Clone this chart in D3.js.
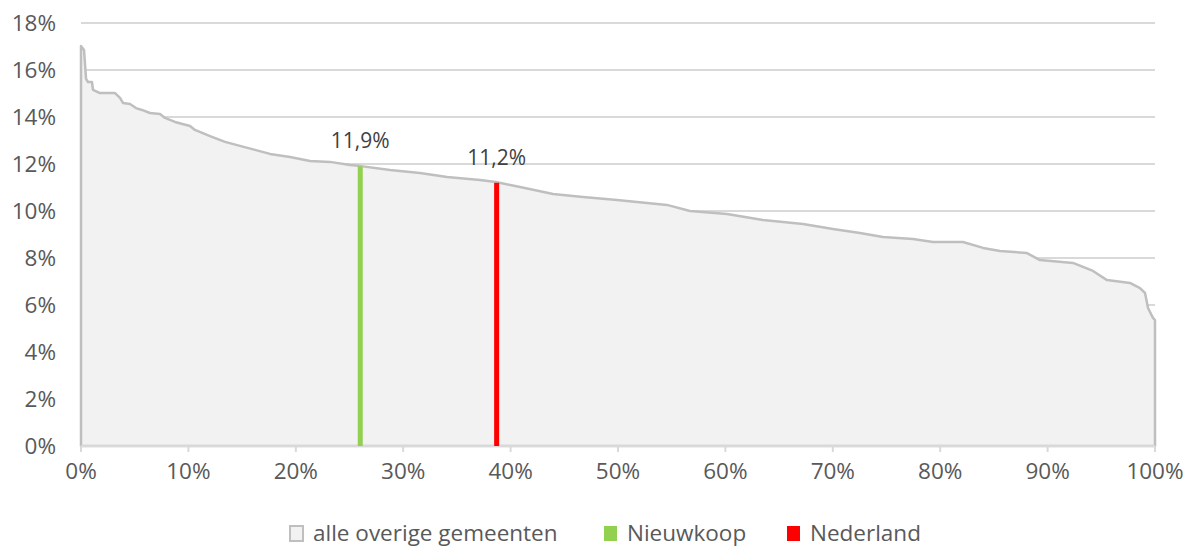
<!DOCTYPE html>
<html>
<head>
<meta charset="utf-8">
<script src="https://cdn.jsdelivr.net/npm/d3@7"></script>
<style>
  body { margin: 0; background: #fff; }
  text { font-family: "Open Sans", sans-serif; }
</style>
</head>
<body>
<script>
// share of municipalities (sorted) and their value
const positions = [0, 0.28, 0.47, 0.65, 1.02, 1.12, 1.77, 3.17, 3.63, 3.91, 4.56, 5.12, 5.68, 6.42, 7.36, 7.82,
                   8.75, 10.15, 10.61, 12.01, 13.41, 14.8, 16.2, 17.6, 19.46, 21.32, 23.18, 25.05, 26.07, 28.77,
                   31.56, 34.08, 37.15, 38.64, 40.88, 43.95, 46.74, 49.91, 51.77, 54.56, 56.7, 60.15, 63.5, 67.23,
                   70.02, 72.53, 74.67, 77.47, 79.33, 82.12, 83.99, 85.57, 88.08, 89.29, 92.36, 94.23, 95.53,
                   97.67, 98.6, 99.07, 99.35, 99.81, 100];
const values    = [17.02, 16.85, 15.62, 15.49, 15.49, 15.15, 15.02, 15.02, 14.81, 14.6, 14.55, 14.38, 14.3, 14.17, 14.13, 13.96,
                   13.79, 13.62, 13.45, 13.19, 12.94, 12.77, 12.6, 12.43, 12.3, 12.13, 12.09, 11.96, 11.91, 11.74,
                   11.62, 11.45, 11.32, 11.23, 11.02, 10.72, 10.6, 10.47, 10.38, 10.26, 10.0, 9.87, 9.62, 9.45,
                   9.23, 9.06, 8.89, 8.81, 8.68, 8.68, 8.43, 8.3, 8.21, 7.91, 7.79, 7.45, 7.06,
                   6.94, 6.72, 6.51, 5.87, 5.45, 5.36];

const markerNames  = ["Nieuwkoop", "Nederland"];
const markerPos    = [26.0, 38.7];
const markerValues = [11.9, 11.2];
const markerColors = ["#92d050", "#ff0000"];

const yTicks = [0, 2, 4, 6, 8, 10, 12, 14, 16, 18];
const xTicks = [0, 10, 20, 30, 40, 50, 60, 70, 80, 90, 100];
const legendLabels = ["alle overige gemeenten", "Nieuwkoop", "Nederland"];

const w = 1193, h = 549;
const svg = d3.select("body").append("svg").attr("width", w).attr("height", h);

const x = d3.scaleLinear().domain([0, 100]).range([81, 1155]);
const y = d3.scaleLinear().domain([0, 18]).range([446, 23]);

// gridlines
svg.selectAll("line.grid")
  .data(yTicks.filter(d => d > 0))
  .enter().append("line")
    .attr("x1", x(0)).attr("x2", x(100))
    .attr("y1", d => y(d)).attr("y2", d => y(d))
    .attr("stroke", "#d9d9d9").attr("stroke-width", 2);

// y labels
svg.selectAll("text.ylab")
  .data(yTicks)
  .enter().append("text")
    .attr("x", 56).attr("y", d => y(d))
    .attr("dy", "0.35em")
    .attr("text-anchor", "end")
    .attr("font-size", "22.5px").attr("fill", "#595959")
    .text(d => d + "%");

// area of all municipalities
const pts = positions.map((p, i) => [p, values[i]]);
const area = d3.area().x(d => x(d[0])).y0(y(0)).y1(d => y(d[1]));
svg.append("path")
  .attr("d", area(pts))
  .attr("fill", "#f2f2f2")
  .attr("stroke", "#bfbfbf").attr("stroke-width", 2.5)
  .attr("stroke-linejoin", "round");

// x axis baseline + ticks
svg.append("line")
  .attr("x1", x(0)).attr("x2", x(100)).attr("y1", y(0)).attr("y2", y(0))
  .attr("stroke", "#d9d9d9").attr("stroke-width", 2);
svg.selectAll("line.xtick")
  .data(xTicks)
  .enter().append("line")
    .attr("x1", d => x(d)).attr("x2", d => x(d))
    .attr("y1", y(0)).attr("y2", y(0) + 6)
    .attr("stroke", "#d9d9d9").attr("stroke-width", 2);
svg.selectAll("text.xlab")
  .data(xTicks)
  .enter().append("text")
    .attr("x", d => x(d)).attr("y", 471)
    .attr("dy", "0.35em")
    .attr("text-anchor", "middle")
    .attr("font-size", "22.5px").attr("fill", "#595959")
    .text(d => d + "%");

// marker bars
markerPos.forEach((p, i) => {
  svg.append("rect")
    .attr("x", x(p) - 2.5).attr("width", 5)
    .attr("y", y(markerValues[i])).attr("height", y(0) - y(markerValues[i]))
    .attr("fill", markerColors[i]);
  svg.append("text")
    .attr("x", x(p)).attr("y", y(markerValues[i]) - 18)
    .attr("text-anchor", "middle")
    .attr("font-size", "21px").attr("fill", "#404040")
    .text(String(markerValues[i]).replace(".", ",") + "%");
});

// legend
const legendX = [290, 604, 787];
const legendFill = ["#f2f2f2", markerColors[0], markerColors[1]];
legendLabels.forEach((lab, i) => {
  svg.append("rect")
    .attr("x", legendX[i]).attr("y", 526).attr("width", 13).attr("height", 15)
    .attr("fill", legendFill[i])
    .attr("stroke", i === 0 ? "#bfbfbf" : "none").attr("stroke-width", 2);
  svg.append("text")
    .attr("x", legendX[i] + 23).attr("y", 533)
    .attr("dy", "0.35em")
    .attr("font-size", "22.5px").attr("fill", "#595959")
    .text(lab);
});
</script>
</body>
</html>
